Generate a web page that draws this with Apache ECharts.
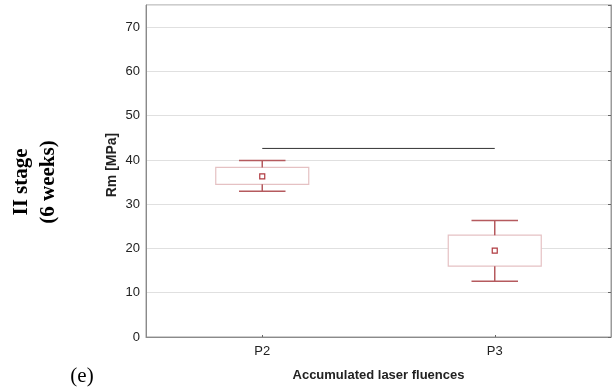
<!DOCTYPE html>
<html>
<head>
<meta charset="utf-8">
<script src="https://cdn.jsdelivr.net/npm/echarts@6/dist/echarts.min.js"></script>
<style>
html,body{margin:0;padding:0;background:#fff;}
#chart{width:613px;height:392px;}
</style>
</head>
<body>
<div id="chart"></div>
<script>
var categories = ['P2', 'P3'];
var whiskerLow = [32.9, 12.6];
var boxLow = [34.5, 16.0];
var meanValues = [36.3, 19.5];
var boxHigh = [38.3, 23.0];
var whiskerHigh = [39.9, 26.3];
var sigLine = [42.6, 42.6];
var yTicks = [0, 10, 20, 30, 40, 50, 60, 70];

var boxData = categories.map(function (c, i) {
  return [i, whiskerLow[i], boxLow[i], meanValues[i], boxHigh[i], whiskerHigh[i]];
});

var chart = echarts.init(document.getElementById('chart'), null, {renderer: 'canvas'});

function renderBox(params, api) {
  var idx = api.value(0);
  var band = api.size([1, 0])[0];
  var pLow = api.coord([idx, api.value(1)]);
  var pQ1 = api.coord([idx, api.value(2)]);
  var pMean = api.coord([idx, api.value(3)]);
  var pQ3 = api.coord([idx, api.value(4)]);
  var pHigh = api.coord([idx, api.value(5)]);
  var x = pMean[0];
  var bw = band * 0.40;
  var cw = band * 0.20;
  var wColor = '#b55a5e';
  return {
    type: 'group',
    children: [
      {type: 'rect', shape: {x: x - bw / 2, y: pQ3[1], width: bw, height: pQ1[1] - pQ3[1]},
        style: {fill: '#fff', stroke: '#e5c1c3', lineWidth: 1.2}},
      {type: 'line', shape: {x1: x, y1: pQ3[1], x2: x, y2: pHigh[1]}, style: {stroke: wColor, lineWidth: 1.5}},
      {type: 'line', shape: {x1: x, y1: pQ1[1], x2: x, y2: pLow[1]}, style: {stroke: wColor, lineWidth: 1.5}},
      {type: 'line', shape: {x1: x - cw / 2, y1: pHigh[1], x2: x + cw / 2, y2: pHigh[1]}, style: {stroke: wColor, lineWidth: 1.5}},
      {type: 'line', shape: {x1: x - cw / 2, y1: pLow[1], x2: x + cw / 2, y2: pLow[1]}, style: {stroke: wColor, lineWidth: 1.5}},
      {type: 'rect', shape: {x: x - 2.5, y: pMean[1] - 2.5, width: 5, height: 5},
        style: {fill: '#fff', stroke: '#b03a40', lineWidth: 1.2}}
    ]
  };
}

var option = {
  backgroundColor: '#fff',
  animation: false,
  textStyle: {fontFamily: 'Liberation Sans, Arial, sans-serif'},
  grid: {left: 146, right: 2, top: 5, bottom: 55, show: true, borderColor: '#9a9a9a', borderWidth: 1, containLabel: false},
  xAxis: {
    type: 'category',
    data: categories,
    boundaryGap: true,
    axisLine: {lineStyle: {color: '#8a8a8a', width: 1}},
    axisTick: {show: true, inside: true, length: 2, alignWithLabel: true, lineStyle: {color: '#666'}},
    axisLabel: {color: '#222', fontSize: 13, margin: 8},
    splitLine: {show: false},
    name: 'Accumulated laser fluences',
    nameLocation: 'middle',
    nameGap: 32,
    nameTextStyle: {color: '#222', fontSize: 13, fontWeight: 'bold'}
  },
  yAxis: [{
    type: 'value',
    min: 0, max: 75, interval: 10,
    axisLine: {show: true, lineStyle: {color: '#8a8a8a', width: 1}},
    axisTick: {show: false},
    axisLabel: {color: '#222', fontSize: 13, margin: 6, showMaxLabel: false,
      formatter: function (v) { return yTicks.indexOf(v) >= 0 ? String(v) : ''; }},
    splitLine: {show: true, lineStyle: {color: '#e0e0e0', width: 1}}
  }, {
    type: 'value',
    position: 'right',
    min: 0, max: 75, interval: 10,
    axisLine: {show: true, lineStyle: {color: '#9a9a9a'}},
    axisTick: {show: true, inside: true, length: 3, lineStyle: {color: '#666'}},
    axisLabel: {show: false},
    splitLine: {show: false}
  }],
  series: [{
    type: 'line',
    data: sigLine,
    symbol: 'none',
    lineStyle: {color: '#333', width: 1},
    silent: true
  }, {
    type: 'custom',
    renderItem: renderBox,
    data: boxData,
    encode: {x: 0, y: [1, 2, 3, 4, 5]},
    z: 3
  }],
  graphic: [{
    type: 'text',
    x: 112, y: 165,
    rotation: Math.PI / 2,
    style: {text: 'Rm [MPa]', fontSize: 14, fontWeight: 'bold', fill: '#222',
      fontFamily: 'Liberation Sans, Arial, sans-serif', align: 'center', verticalAlign: 'middle'}
  }, {
    type: 'text',
    x: 35, y: 182,
    rotation: Math.PI / 2,
    style: {text: 'II stage\n(6 weeks)', fontSize: 21, fontWeight: 'bold', fill: '#000', lineHeight: 27,
      fontFamily: 'Liberation Serif, Times New Roman, serif', align: 'center', verticalAlign: 'middle'}
  }, {
    type: 'text',
    x: 82, y: 376,
    style: {text: '(e)', fontSize: 21, fill: '#000',
      fontFamily: 'Liberation Serif, Times New Roman, serif', align: 'center', verticalAlign: 'middle'}
  }]
};
chart.setOption(option);
</script>
</body>
</html>
